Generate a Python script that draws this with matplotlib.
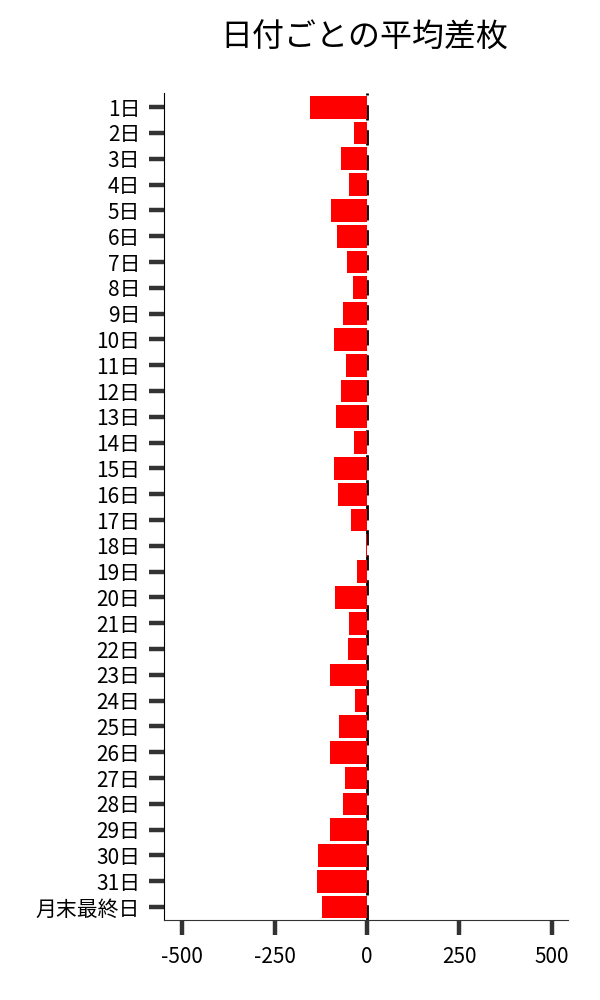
import matplotlib
matplotlib.use("Agg")
import matplotlib.pyplot as plt

plt.rcParams['font.family'] = ['Noto Sans CJK JP', 'DejaVu Sans']

# 日付ラベルと平均差枚
days = [f"{i}日" for i in range(1, 32)] + ["月末最終日"]
avg_diff = [-154, -35, -70, -49, -97, -81, -54, -38, -65, -89,
            -57, -70, -84, -35, -89, -78, -43, -2, -27, -87,
            -49, -51, -100, -32, -76, -100, -60, -65, -100, -133,
            -135, -122]
xticks = [-500, -250, 0, 250, 500]

fig = plt.figure(figsize=(6, 10), dpi=100)
ax = fig.add_axes([0.273, 0.08, 0.674, 0.827])

ypos = list(range(len(days)))
ax.axvline(0, color='black', linestyle=(0, (5.5, 3.5)), linewidth=2, zorder=0)
ax.barh(ypos, avg_diff, height=0.88, color='red', zorder=2)

ax.set_yticks(ypos)
ax.set_yticklabels(days, fontsize=15)
ax.set_ylim(len(days) - 0.5, -0.55)
ax.set_xlim(-550, 545)
ax.set_xticks(xticks)
ax.set_xticklabels([str(v) for v in xticks], fontsize=15)

ax.tick_params(axis='y', length=11, width=3.2, color='#333333', pad=6)
ax.tick_params(axis='x', length=11, width=3.2, color='#333333', pad=8)

ax.spines['top'].set_visible(False)
ax.spines['right'].set_visible(False)
ax.spines['left'].set_color('black')
ax.spines['bottom'].set_color('#333333')

fig.suptitle("日付ごとの平均差枚", fontsize=23, x=0.608, y=0.978)

fig.savefig("out.png", dpi=100)
